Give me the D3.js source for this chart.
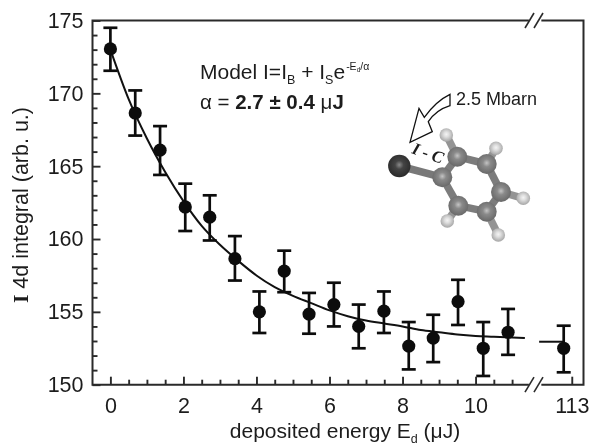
<!DOCTYPE html>
<html>
<head>
<meta charset="utf-8">
<script src="https://cdn.jsdelivr.net/npm/d3@7"></script>
<style>
  html, body { margin: 0; padding: 0; background: #fff; }
  svg { display: block; filter: blur(0.4px); }
  text { font-family: "Liberation Sans", Arial, sans-serif; fill: #1c1c1c; }
</style>
</head>
<body>
<svg id="chart"></svg>
<script>
const energy  = [0, 0.68, 1.36, 2.05, 2.72, 3.41, 4.08, 4.76, 5.44, 6.12, 6.8, 7.49, 8.17, 8.84, 9.52, 10.21, 10.89, 112.78];
const counts  = [173.05, 168.65, 166.1, 162.2, 161.5, 158.65, 155, 157.8, 154.85, 155.5, 154, 155.05, 152.65, 153.2, 155.7, 152.5, 153.6, 152.5];
const errHigh = [174.5, 170.2, 167.75, 163.8, 163, 160.2, 156.4, 159.2, 156.3, 157, 155.5, 156.4, 154.3, 154.8, 157.2, 154.3, 155.2, 154.05];
const errLow  = [171.55, 167.1, 164.4, 160.55, 159.9, 157.15, 153.55, 156.35, 153.5, 154, 152.5, 153.55, 151.05, 151.55, 154.1, 150.6, 152.05, 150.85];

// fit line
const fitX = [0, 0.5, 1, 1.5, 2, 2.5, 3, 3.5, 4, 4.5, 5, 5.5, 6, 6.5, 7, 7.5, 8, 8.5, 9, 9.5, 10, 10.5, 11.35];
const fitY = [173, 169.6, 166.9, 164.6, 162.6, 160.9, 159.6, 158.5, 157.5, 156.7, 156.1, 155.6, 155.1, 154.7, 154.4, 154.2, 154, 153.75, 153.6, 153.45, 153.35, 153.3, 153.2];
const fitTailX = [112.11, 112.78];
const fitTailY = [152.95, 152.95];

const xTicks = [0, 2, 4, 6, 8, 10, 113];
const xMinor = [0.5, 1, 1.5, 2.5, 3, 3.5, 4.5, 5, 5.5, 6.5, 7, 7.5, 8.5, 9, 9.5, 10.5, 11];
const yTicks = [150, 155, 160, 165, 170, 175];
const yMinor = [151, 152, 153, 154, 156, 157, 158, 159, 161, 162, 163, 164, 166, 167, 168, 169, 171, 172, 173, 174];

const W = 591, H = 446;
const INK = "#1c1c1c";

const svg = d3.select("#chart").attr("width", W).attr("height", H).attr("viewBox", "0 0 " + W + " " + H);

// broken x axis: 11.6 and 111.97 land on the same pixel
const x = d3.scaleLinear()
  .domain([-0.49, 11.6, 111.97, 113.32])
  .range([92.5, 534, 534, 583.5]);
const y = d3.scaleLinear().domain([150, 175]).range([384.7, 20.5]);

const bottom = y(150), top_ = y(175), left = x.range()[0], right = x.range()[3];


function drawFrame() {
  const gapL = x(11.46), gapR = x(112.17);
  const g = svg.append("g").attr("fill", "none").attr("stroke", "#2a2a2a").attr("stroke-width", 2);
  g.append("path").attr("d", "M" + gapL + "," + top_ + "H" + left + "V" + bottom + "H" + gapL);
  g.append("path").attr("d", "M" + gapR + "," + top_ + "H" + right + "V" + bottom + "H" + gapR);

  // the two slashes on each broken edge
  [top_, bottom].forEach(yy => {
    [-8, 1].forEach(off => {
      g.append("line")
        .attr("x1", x(11.6) + off - 1).attr("y1", yy + 7.5)
        .attr("x2", x(11.6) + off + 8).attr("y2", yy - 7.5)
        .attr("stroke-width", 1.6);
    });
  });
}


function drawAxes() {
  const ax = svg.append("g").attr("transform", "translate(0," + bottom + ")");
  const axMinor = svg.append("g").attr("transform", "translate(0," + bottom + ")");
  ax.call(d3.axisBottom(x).tickValues(xTicks).tickSize(-8).tickPadding(13).tickFormat(d3.format("d")));
  axMinor.call(d3.axisBottom(x).tickValues(xMinor).tickSize(-5).tickFormat(""));

  const ay = svg.append("g").attr("transform", "translate(" + left + ",0)");
  const ayMinor = svg.append("g").attr("transform", "translate(" + left + ",0)");
  ay.call(d3.axisLeft(y).tickValues(yTicks).tickSize(-8).tickPadding(9).tickFormat(d3.format("d")));
  ayMinor.call(d3.axisLeft(y).tickValues(yMinor).tickSize(-5).tickFormat(""));

  [ax, axMinor, ay, ayMinor].forEach(a => {
    a.select(".domain").remove();
    a.selectAll("line").attr("stroke", "#2a2a2a").attr("stroke-width", 1.9);
    a.selectAll("text").attr("font-size", 21.5).attr("font-family", "Liberation Sans").attr("fill", INK);
  });
  ax.selectAll("text").attr("dy", "0.71em");
}


function drawFit() {
  const line = d3.line().x(d => x(d[0])).y(d => y(d[1])).curve(d3.curveMonotoneX);
  const g = svg.append("g").attr("fill", "none").attr("stroke", "#111").attr("stroke-width", 2);
  g.append("path").attr("d", line(d3.zip(fitX, fitY)));
  g.append("path").attr("d", line(d3.zip(fitTailX, fitTailY)));
}


function drawPoints() {
  const g = svg.append("g");
  const rows = energy.map((e, i) => ({ e: e, v: counts[i], hi: errHigh[i], lo: errLow[i] }));
  const pt = g.selectAll("g").data(rows).join("g").attr("stroke", "#0c0c0c").attr("stroke-width", 2.7);
  pt.append("line").attr("x1", d => x(d.e)).attr("x2", d => x(d.e)).attr("y1", d => y(d.hi)).attr("y2", d => y(d.lo));
  pt.append("line").attr("x1", d => x(d.e) - 7).attr("x2", d => x(d.e) + 7).attr("y1", d => y(d.hi)).attr("y2", d => y(d.hi));
  pt.append("line").attr("x1", d => x(d.e) - 7).attr("x2", d => x(d.e) + 7).attr("y1", d => y(d.lo)).attr("y2", d => y(d.lo));
  pt.append("circle").attr("cx", d => x(d.e)).attr("cy", d => y(d.v)).attr("r", 6.6).attr("fill", "#0c0c0c").attr("stroke", "none");
}


function drawLabels() {
  const yl = svg.append("text")
    .attr("transform", "translate(28,205) rotate(-90)")
    .attr("text-anchor", "middle").attr("font-size", 21.5);
  yl.append("tspan").attr("font-family", "Liberation Serif").attr("font-weight", "bold").text("I");
  yl.append("tspan").text(" 4d integral (arb. u.)");

  const xl = svg.append("text").attr("x", 345).attr("y", 438).attr("text-anchor", "middle").attr("font-size", 21);
  xl.append("tspan").text("deposited energy E");
  xl.append("tspan").attr("font-size", 12.5).attr("dy", 5).text("d");
  xl.append("tspan").attr("dy", -5).text(" (\u03bcJ)");

  const m = svg.append("text").attr("x", 200).attr("y", 79).attr("font-size", 21);
  m.append("tspan").text("Model I=I");
  m.append("tspan").attr("font-size", 12.5).attr("dy", 5).text("B");
  m.append("tspan").attr("dy", -5).text(" + I");
  m.append("tspan").attr("font-size", 12.5).attr("dy", 5).text("S");
  m.append("tspan").attr("dy", -5).text("e");
  m.append("tspan").attr("font-size", 10.5).attr("dy", -9).attr("dx", 1).text("-E");
  m.append("tspan").attr("font-size", 6.5).attr("dy", 2).text("d");
  m.append("tspan").attr("font-size", 10.5).attr("dy", -2).text("/\u03b1");

  const a = svg.append("text").attr("x", 200).attr("y", 109).attr("font-size", 20.5);
  a.append("tspan").text("\u03b1 = ");
  a.append("tspan").attr("font-weight", "bold").text("2.7 \u00b1 0.4 ");
  a.append("tspan").text("\u03bc");
  a.append("tspan").attr("font-weight", "bold").text("J");
}


function drawMolecule() {
  const defs = svg.append("defs");
  const grad = (id, c0, c1, c2) => {
    const g = defs.append("radialGradient").attr("id", id).attr("cx", "50%").attr("cy", "45%").attr("r", "55%");
    g.append("stop").attr("offset", "0%").attr("stop-color", c0);
    g.append("stop").attr("offset", "35%").attr("stop-color", c1);
    g.append("stop").attr("offset", "100%").attr("stop-color", c2);
  };
  grad("atomI", "#8a8a8a", "#444", "#2a2a2a");
  grad("atomC", "#c4c4c4", "#8a8a8a", "#686868");
  grad("atomH", "#f4f4f4", "#dedede", "#a4a4a4");

  const g = svg.append("g");
  const iodine = [399.3, 166];
  const ring = [[442.3, 177.3], [457.3, 156.7], [486.7, 164], [501, 192], [486.7, 211.7], [458.3, 205.7]];
  const hyd = [null, [446.3, 135], [496, 148.3], [523.3, 198.3], [498.3, 235], [447.3, 221]];

  const bond = (a, b, col, w) => g.append("line")
    .attr("x1", a[0]).attr("y1", a[1]).attr("x2", b[0]).attr("y2", b[1])
    .attr("stroke", col).attr("stroke-width", w);

  ring.forEach((c, i) => {
    if (hyd[i]) bond(c, hyd[i], "#949494", 7.5);
  });
  ring.forEach((c, i) => bond(c, ring[(i + 1) % 6], "#7c7c7c", 7.5));
  bond(iodine, ring[0], "#787878", 7.5);

  hyd.forEach(h => {
    if (h) g.append("circle").attr("cx", h[0]).attr("cy", h[1]).attr("r", 6.8).attr("fill", "url(#atomH)");
  });
  ring.forEach(c => g.append("circle").attr("cx", c[0]).attr("cy", c[1]).attr("r", 10).attr("fill", "url(#atomC)"));
  g.append("circle").attr("cx", iodine[0]).attr("cy", iodine[1]).attr("r", 11.2).attr("fill", "url(#atomI)");

  // excitation arrow
  g.append("path")
    .attr("d", "M410,142.3 L419,108.3 L424.3,117.3 Q436,101 450,94.3 L450,105.7 Q436,110 428.3,121.7 L432.3,131.7 Z")
    .attr("fill", "#fff").attr("stroke", "#111").attr("stroke-width", 1.3).attr("stroke-linejoin", "miter");

  svg.append("text").attr("x", 456).attr("y", 105).attr("font-size", 18).text("2.5 Mbarn");

  svg.append("text")
    .attr("transform", "translate(411,153) rotate(20)")
    .attr("font-weight", "bold").attr("font-style", "italic")
    .attr("font-size", 17).style("font-family", "Liberation Serif").text("I - C");
}


drawMolecule();
drawFit();
drawPoints();
drawFrame();
drawAxes();
drawLabels();
</script>
</body>
</html>
